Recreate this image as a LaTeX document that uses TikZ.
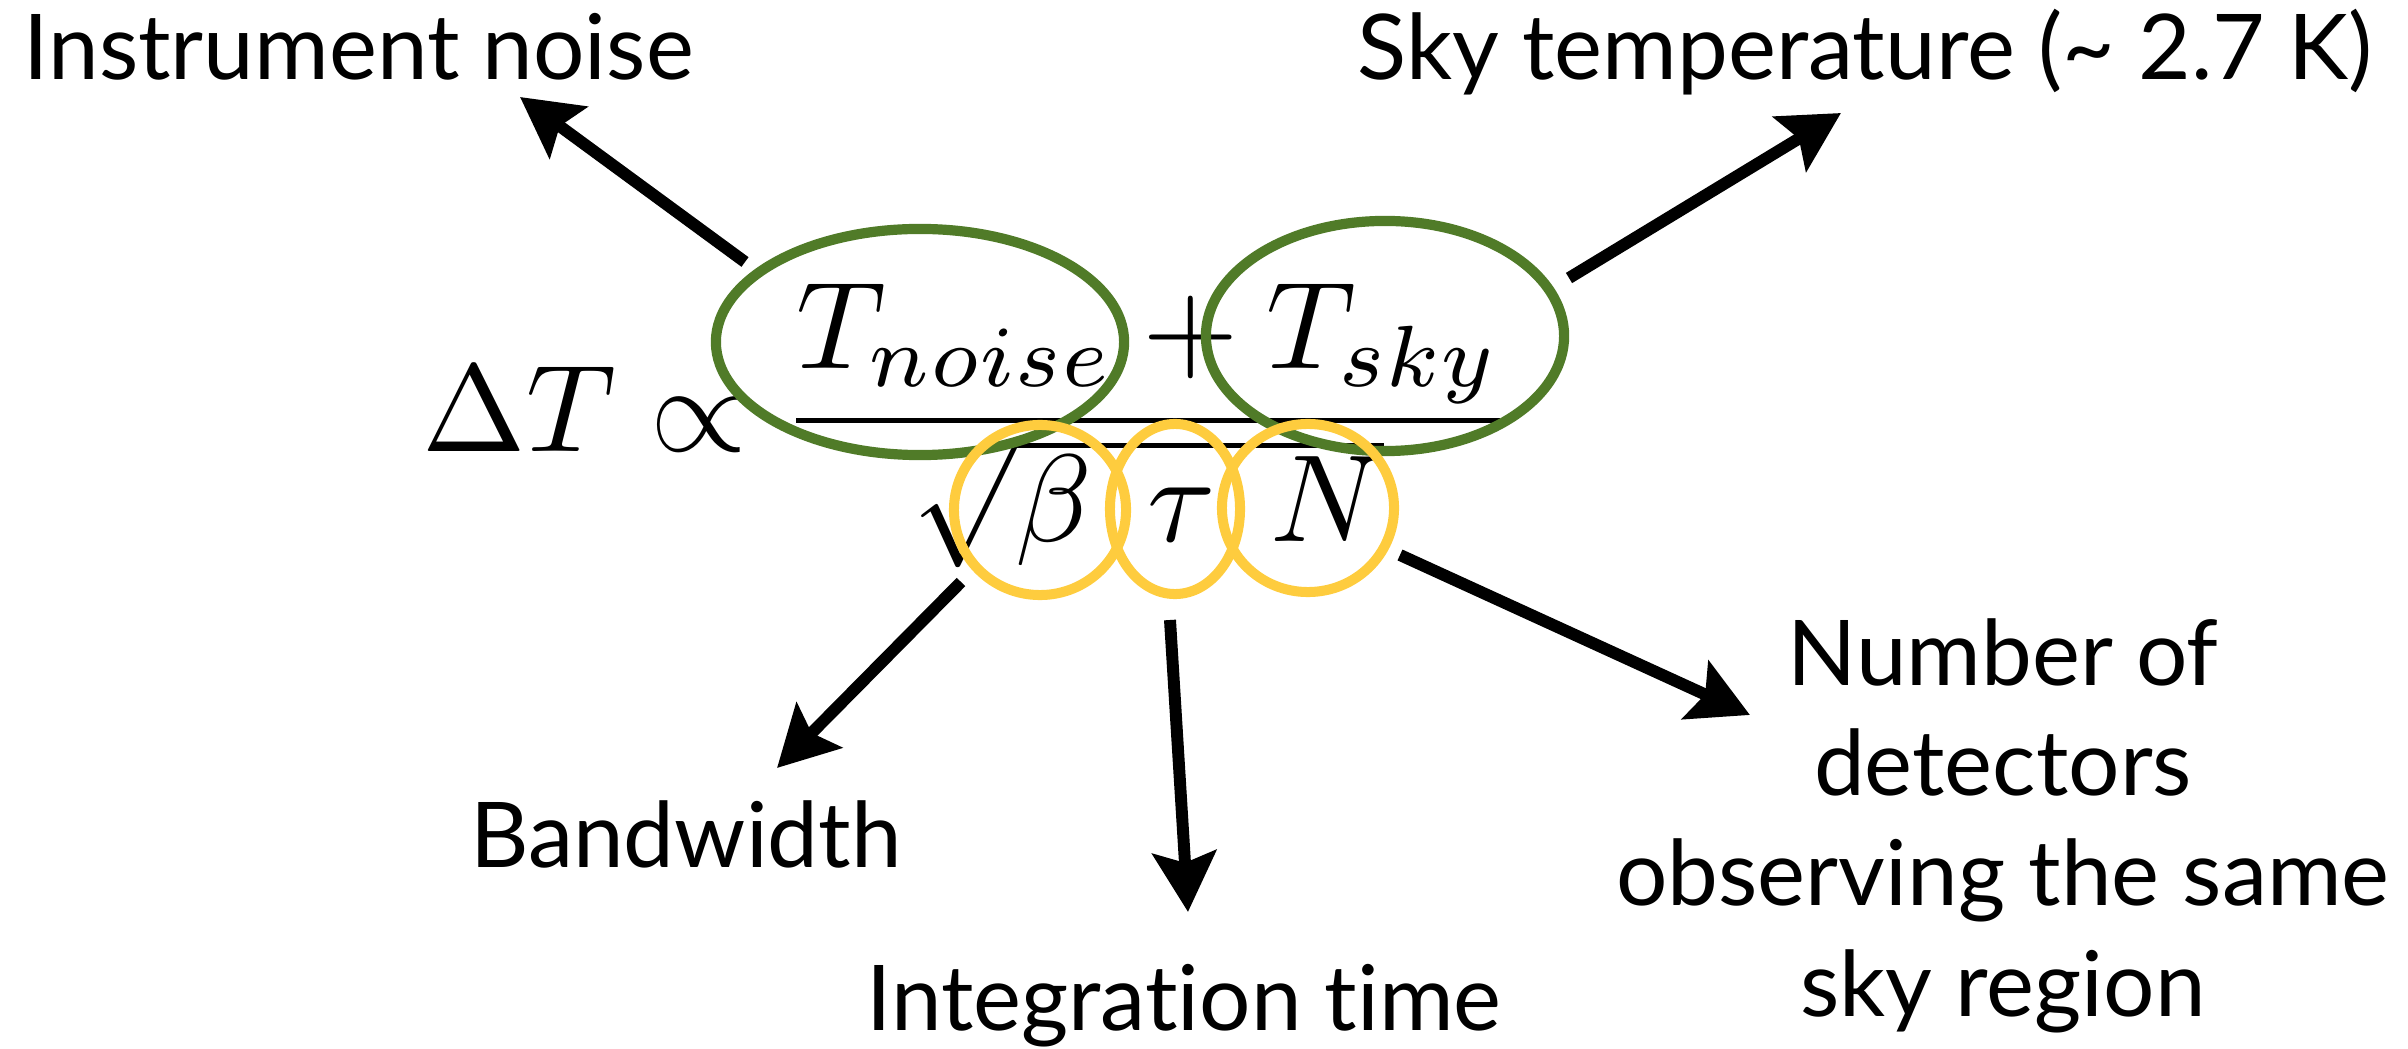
\RequirePackage{fix-cm}
\documentclass[tikz,border=0pt]{standalone}
\usepackage{amsmath}
\usepackage{graphicx}
\usepackage{fontspec}
\setmainfont[Ligatures=NoCommon]{Lato}
\usetikzlibrary{positioning,shapes.geometric,arrows.meta}

\definecolor{ringgreen}{RGB}{80,123,40}
\definecolor{ringyellow}{RGB}{254,204,62}

\begin{document}
\begin{tikzpicture}[x=0.01cm,y=-0.01cm,line join=bevel,
  >={Stealth[length=17pt,width=18pt,inset=3pt]},
  label_text/.style={inner sep=0pt,font=\fontsize{25.8}{31.3}\selectfont},
  greenring/.style={ellipse,draw=ringgreen,line width=2.9pt,inner sep=0pt},
  yellowring/.style={ellipse,draw=ringyellow,line width=2.85pt,inner sep=0pt},
  bigarrow/.style={->,line width=3.4pt,black}]
\useasboundingbox (0,0) rectangle (2408,1049);
%%
\node (formula) at (422,452) [anchor=base west,inner sep=0pt]
  {\scalebox{3.53}{$\displaystyle \Delta T \propto \frac{T_{noise}+T_{sky}}{\sqrt{\beta\mskip8mu\tau\mskip8mu N}}$}};
%
\node (ring_noise) at (920,342) [greenring,minimum width=4.08cm,minimum height=2.26cm] {};
  \node (ring_sky) at (1385,336) [greenring,minimum width=3.58cm,minimum height=2.30cm] {};
  \node (ring_beta) at (1040,510) [yellowring,minimum width=1.72cm,minimum height=1.70cm] {};
  \node (ring_tau) at (1175,509) [yellowring,minimum width=1.30cm,minimum height=1.70cm] {};
  \node (ring_n) at (1308,508) [yellowring,minimum width=1.72cm,minimum height=1.68cm] {};
%
\node (lbl_noise) at (23,80) [label_text,anchor=base west] {Instrument noise};
  \node (lbl_sky) at (1357,80) [label_text,anchor=base west] {Sky temperature (\textasciitilde{} 2.7 K)};
  \node (lbl_band) at (686,867) [label_text,anchor=base] {Bandwidth};
  \node (lbl_time) at (1184,1030) [label_text,anchor=base] {Integration time};
  \node (lbl_det) at (2003,1016) [label_text,anchor=base,align=center]
    {Number of\\detectors\\observing the same\\sky region};
%
\coordinate (tail_noise) at (745,262);
  \coordinate (head_noise) at (520,97);
  \coordinate (tail_sky) at (1569,278);
  \coordinate (head_sky) at (1841,113);
  \coordinate (tail_band) at (961,582);
  \coordinate (head_band) at (777,768);
  \coordinate (tail_time) at (1170,620);
  \coordinate (head_time) at (1188,912);
  \coordinate (tail_det) at (1400,555);
  \coordinate (head_det) at (1750,715);
  \draw [bigarrow] (tail_noise) -- (head_noise);
  \draw [bigarrow] (tail_sky) -- (head_sky);
  \draw [bigarrow] (tail_band) -- (head_band);
  \draw [bigarrow] (tail_time) -- (head_time);
  \draw [bigarrow] (tail_det) -- (head_det);
%
\end{tikzpicture}
\end{document}
